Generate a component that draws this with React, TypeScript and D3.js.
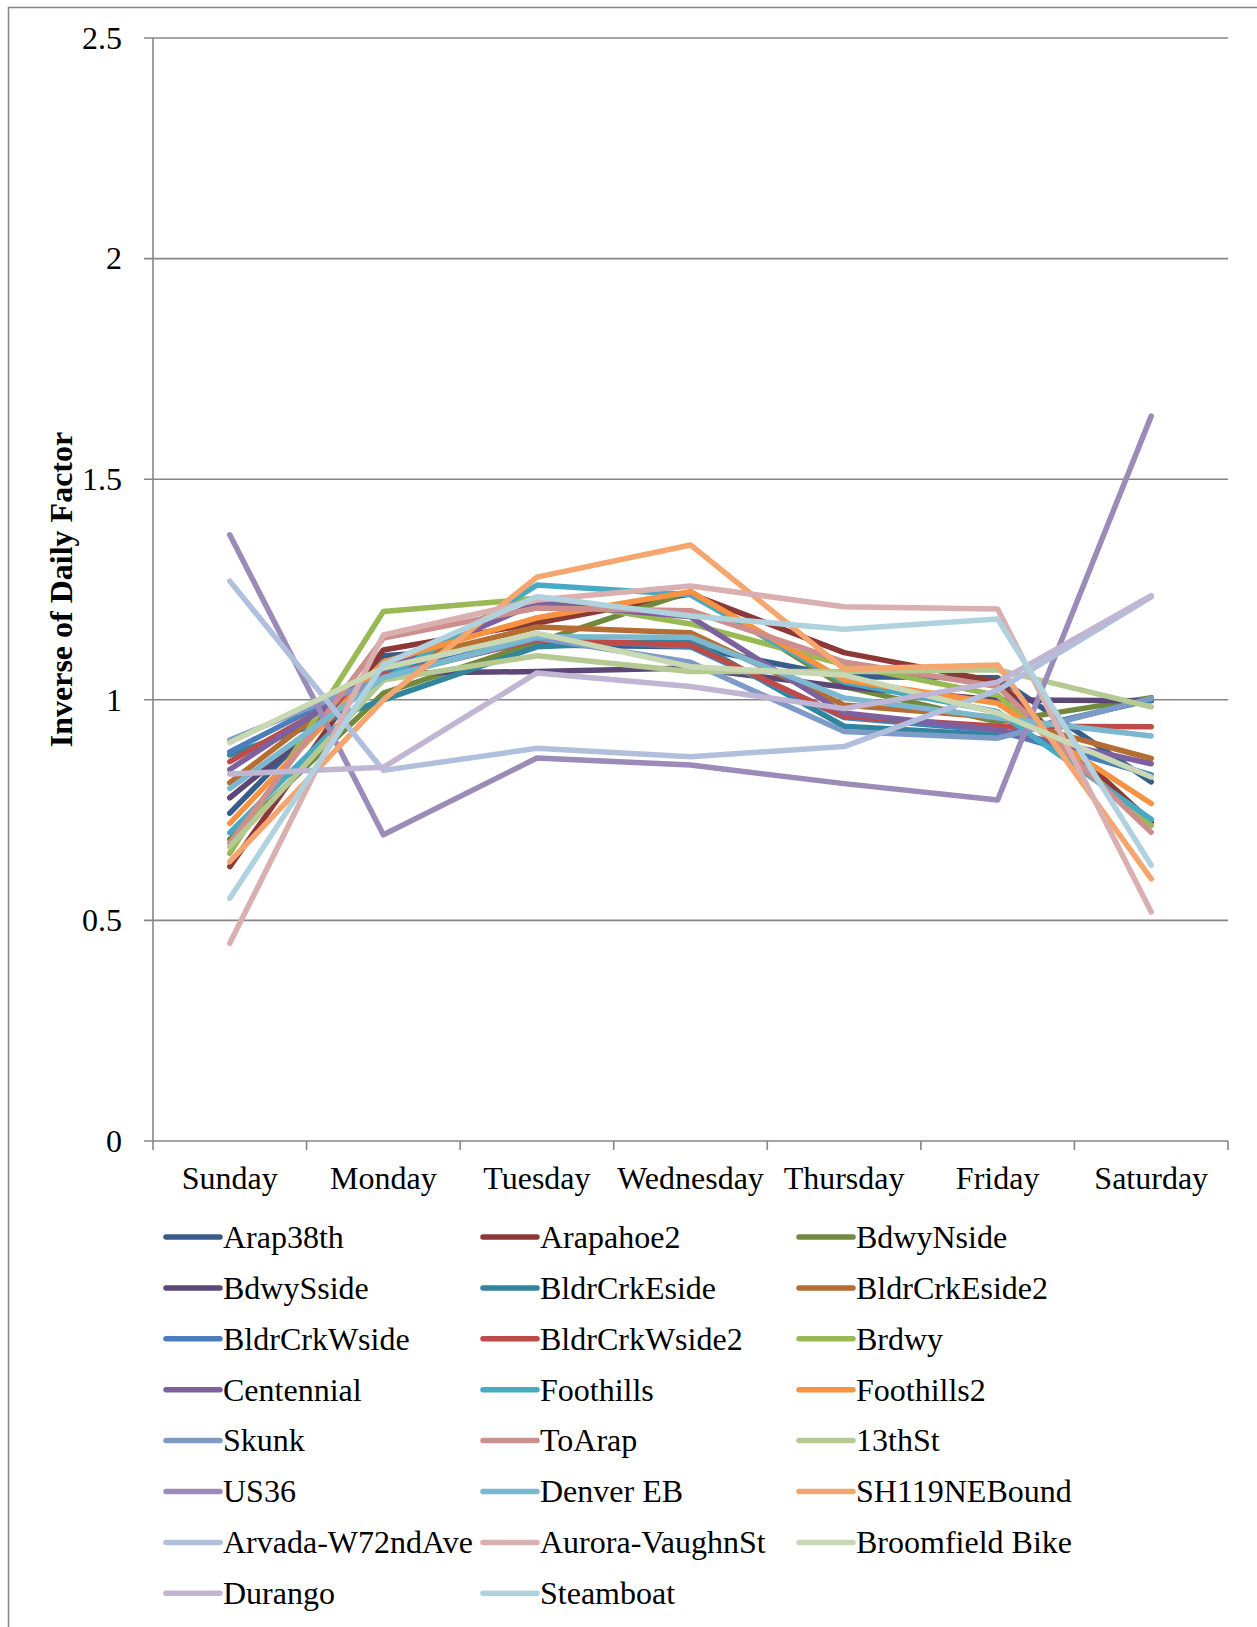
import React from 'react';
import * as d3 from 'd3';

const days = ['Sunday', 'Monday', 'Tuesday', 'Wednesday', 'Thursday', 'Friday', 'Saturday'];
const yTicks = [0, 0.5, 1, 1.5, 2, 2.5];
const yTickLabels = ['0', '0.5', '1', '1.5', '2', '2.5'];

const seriesNames = [
  'Arap38th', 'Arapahoe2', 'BdwyNside',
  'BdwySside', 'BldrCrkEside', 'BldrCrkEside2',
  'BldrCrkWside', 'BldrCrkWside2', 'Brdwy',
  'Centennial', 'Foothills', 'Foothills2',
  'Skunk', 'ToArap', '13thSt',
  'US36', 'Denver EB', 'SH119NEBound',
  'Arvada-W72ndAve', 'Aurora-VaughnSt', 'Broomfield Bike',
  'Durango', 'Steamboat',
];

const seriesColors = [
  '#385D8A', '#8C3836', '#71893F',
  '#5C4776', '#31859C', '#B66D31',
  '#4A7EBB', '#BE4B48', '#98B954',
  '#7D60A0', '#46AAC5', '#F69240',
  '#7E9BC8', '#CE8E8D', '#B5CA92',
  '#9B8BB8', '#7BB8CF', '#F6A56E',
  '#B0C0DC', '#D9AFAF', '#C8D8B3',
  '#C0B5D2', '#B0D2DE',
];

// Sun .. Sat
const arap38th = [0.743, 1.10, 1.124, 1.12, 1.052, 1.05, 0.814];
const arapahoe2 = [0.622, 1.113, 1.174, 1.24, 1.107, 1.041, 0.723];
const bdwyNside = [0.684, 1.015, 1.13, 1.245, 1.03, 0.95, 1.005];
const bdwySside = [0.778, 1.06, 1.064, 1.072, 1.029, 1.0, 0.998];
const bldrCrkEside = [0.875, 1.0, 1.12, 1.135, 0.94, 0.92, 1.0];
const bldrCrkEside2 = [0.812, 1.08, 1.165, 1.152, 0.988, 0.96, 0.867];
const bldrCrkWside = [0.882, 1.06, 1.138, 1.12, 0.96, 0.93, 0.83];
const bldrCrkWside2 = [0.86, 1.055, 1.136, 1.124, 0.962, 0.94, 0.939];
const brdwy = [0.652, 1.2, 1.23, 1.172, 1.08, 1.01, 0.715];
const centennial = [0.842, 1.07, 1.219, 1.188, 0.97, 0.932, 0.855];
const foothills = [0.699, 1.045, 1.26, 1.238, 1.04, 0.973, 0.729];
const foothills2 = [0.72, 1.086, 1.186, 1.245, 1.045, 0.992, 0.765];
const skunk = [0.909, 1.05, 1.14, 1.085, 0.928, 0.913, 1.003];
const toArap = [0.675, 1.14, 1.208, 1.202, 1.086, 1.03, 0.70];
const st13th = [0.667, 1.045, 1.10, 1.064, 1.064, 1.068, 0.984];
const us36 = [1.374, 0.694, 0.868, 0.852, 0.81, 0.773, 1.643];
const denverEB = [0.799, 1.05, 1.143, 1.142, 1.004, 0.959, 0.918];
const sh119 = [0.633, 1.0, 1.278, 1.351, 1.07, 1.079, 0.594];
const arvada = [1.269, 0.84, 0.89, 0.871, 0.894, 1.022, 1.233];
const aurora = [0.448, 1.147, 1.226, 1.258, 1.211, 1.206, 0.519];
const broomfield = [0.903, 1.072, 1.151, 1.075, 1.056, 0.97, 0.825];
const durango = [0.832, 0.847, 1.061, 1.03, 0.98, 1.04, 1.236];
const steamboat = [0.55, 1.08, 1.234, 1.19, 1.16, 1.183, 0.625];

const seriesValues = [
  arap38th, arapahoe2, bdwyNside,
  bdwySside, bldrCrkEside, bldrCrkEside2,
  bldrCrkWside, bldrCrkWside2, brdwy,
  centennial, foothills, foothills2,
  skunk, toArap, st13th,
  us36, denverEB, sh119,
  arvada, aurora, broomfield,
  durango, steamboat,
];

const W = 1257;
const H = 1627;
const margin = { top: 38, right: 29, bottom: 486, left: 153 };
const font = '"Liberation Serif", "Times New Roman", serif';
const gridColor = '#868686';
const fs = 32;

const App: React.FC = () => {
  const x = d3.scaleBand<string>()
    .domain(days)
    .range([margin.left, W - margin.right])
    .padding(0);

  const y = d3.scaleLinear()
    .domain([0, 2.5])
    .range([H - margin.bottom, margin.top]);

  const line = d3.line<number>()
    .x((_, i) => (x(days[i]) as number) + x.bandwidth() / 2)
    .y(d => y(d));

  const x0 = margin.left;
  const x1 = W - margin.right;
  const yBottom = y(0);

  // legend layout
  const legendCols = [166, 483, 799];
  const legendTop = 1237;
  const legendStep = 50.9;
  const swatchLen = 54;

  return (
    <svg
      width={W}
      height={H}
      style={{ position: 'absolute', left: 0, top: 0, background: '#fff' }}
    >
      <rect x={8.5} y={7.5} width={1260} height={1640} fill="#fff" stroke={gridColor} strokeWidth={1.5} />

      {/* gridlines + y ticks */}
      {yTicks.map((t, i) => (
        <g key={t}>
          <line x1={x0 - 9} x2={x1} y1={y(t)} y2={y(t)} stroke={gridColor} strokeWidth={1.6} />
          <text
            x={122}
            y={y(t)}
            dy="0.34em"
            textAnchor="end"
            fontFamily={font}
            fontSize={fs}
            fill="#000"
          >
            {yTickLabels[i]}
          </text>
        </g>
      ))}

      {/* y axis */}
      <line x1={x0} x2={x0} y1={margin.top} y2={yBottom} stroke={gridColor} strokeWidth={1.6} />

      {/* x ticks */}
      {d3.range(days.length + 1).map(i => {
        const xx = x0 + i * x.bandwidth();
        return <line key={i} x1={xx} x2={xx} y1={yBottom} y2={yBottom + 9} stroke={gridColor} strokeWidth={1.6} />;
      })}

      {days.map(d => (
        <text
          key={d}
          x={(x(d) as number) + x.bandwidth() / 2}
          y={1189}
          textAnchor="middle"
          fontFamily={font}
          fontSize={fs}
          fill="#000"
        >
          {d}
        </text>
      ))}

      {/* y title */}
      <text
        transform={`translate(72, ${(margin.top + yBottom) / 2}) rotate(-90)`}
        textAnchor="middle"
        fontFamily={font}
        fontSize={32}
        fontWeight="bold"
        fill="#000"
      >
        Inverse of Daily Factor
      </text>

      {/* series */}
      {seriesValues.map((vals, i) => (
        <path
          key={seriesNames[i]}
          d={line(vals) as string}
          fill="none"
          stroke={seriesColors[i]}
          strokeWidth={5.5}
          strokeLinecap="round"
          strokeLinejoin="round"
        />
      ))}

      {/* legend */}
      {seriesNames.map((name, i) => {
        const col = i % 3;
        const row = Math.floor(i / 3);
        const lx = legendCols[col];
        const ly = legendTop + row * legendStep;
        return (
          <g key={name}>
            <line
              x1={lx}
              x2={lx + swatchLen}
              y1={ly}
              y2={ly}
              stroke={seriesColors[i]}
              strokeWidth={5.5}
              strokeLinecap="round"
            />
            <text
              x={lx + swatchLen + 3}
              y={ly}
              dy="0.34em"
              fontFamily={font}
              fontSize={fs}
              fill="#000"
            >
              {name}
            </text>
          </g>
        );
      })}
    </svg>
  );
};

export default App;
